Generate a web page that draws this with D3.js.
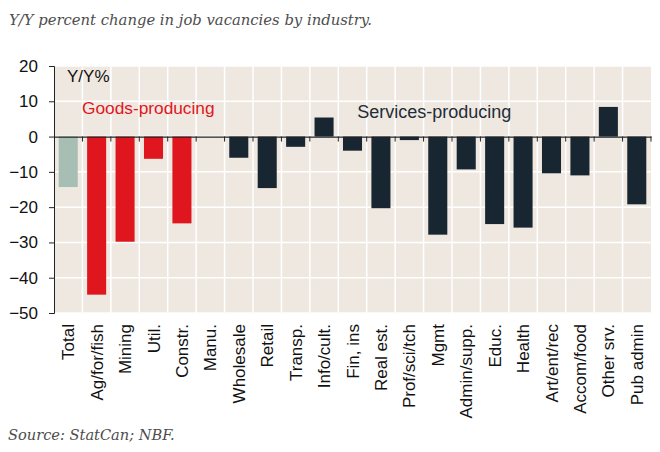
<!DOCTYPE html>
<html>
<head>
<meta charset="utf-8">
<script src="https://cdn.jsdelivr.net/npm/d3@7"></script>
<style>
  body { margin: 0; background: #fff; }
  svg { display: block; }
</style>
</head>
<body>
<svg id="chart" width="660" height="452"></svg>
<script>
// Industries, left to right
const categories = ["Total", "Ag/for/fish", "Mining", "Util.", "Constr.", "Manu.",
  "Wholesale", "Retail", "Transp.", "Info/cult.", "Fin, ins", "Real est.",
  "Prof/sci/tch", "Mgmt", "Admin/supp.", "Educ.", "Health", "Art/ent/rec",
  "Accom/food", "Other srv.", "Pub admin"];

// Y/Y % change in vacancies
const values = [-14.3, -44.8, -29.8, -6.3, -24.6, 0,
  -6.0, -14.6, -2.9, 5.4, -4.0, -20.3,
  -1.0, -27.8, -9.3, -24.8, -25.8, -10.4,
  -11.0, 8.4, -19.2];

// group for each bar: total / goods / services
const groups = ["total", "goods", "goods", "goods", "goods", "goods",
  "services", "services", "services", "services", "services", "services",
  "services", "services", "services", "services", "services", "services",
  "services", "services", "services"];

const yTicks = [20, 10, 0, -10, -20, -30, -40, -50];

const colors = { total: "#a7beb5", goods: "#e0161e", services: "#172631" };

const svg = d3.select("#chart");
const margin = { left: 54, right: 9, top: 66, bottom: 139 };
const width = 660 - margin.left - margin.right;
const height = 452 - margin.top - margin.bottom;

const x = d3.scaleBand().domain(categories).range([0, width]).paddingInner(0.33).paddingOuter(0.165);
const xb = d3.scaleBand().domain(categories).range([0, width]); // full bands for grid
const y = d3.scaleLinear().domain([-50, 20]).range([height, 0]);

const sans = "'Liberation Sans', Arial, sans-serif";
const serif = "'DejaVu Serif', Georgia, serif";

// title + source
svg.append("text")
  .attr("x", 9).attr("y", 25)
  .style("font-family", serif)
  .style("font-style", "italic")
  .style("font-size", "14.8px")
  .style("fill", "#4d4d4d")
  .text("Y/Y percent change in job vacancies by industry.");

svg.append("text")
  .attr("x", 8).attr("y", 440)
  .style("font-family", serif)
  .style("font-style", "italic")
  .style("font-size", "14.6px")
  .style("fill", "#4d4d4d")
  .text("Source: StatCan; NBF.");

const g = svg.append("g").attr("transform", `translate(${margin.left},${margin.top})`);

// plot background
g.append("rect")
  .attr("width", width).attr("height", height)
  .attr("fill", "#efe8e1");

// gridlines
g.append("g").selectAll("line")
  .data(yTicks)
  .enter().append("line")
  .attr("x1", 0).attr("x2", width)
  .attr("y1", d => y(d)).attr("y2", d => y(d))
  .attr("stroke", "#fff").attr("stroke-width", 1.5);

g.append("g").selectAll("line")
  .data(categories.slice(1))
  .enter().append("line")
  .attr("x1", d => xb(d)).attr("x2", d => xb(d))
  .attr("y1", 0).attr("y2", height)
  .attr("stroke", "#fff").attr("stroke-width", 1.5);

// bars
g.append("g").selectAll("rect")
  .data(categories)
  .enter().append("rect")
  .attr("x", d => x(d))
  .attr("width", x.bandwidth())
  .attr("y", (d, i) => y(Math.max(0, values[i])))
  .attr("height", (d, i) => Math.abs(y(values[i]) - y(0)))
  .attr("fill", (d, i) => colors[groups[i]]);

// y axis
const yAxis = d3.axisLeft(y).tickValues(yTicks).tickSize(5).tickPadding(11);
const ya = g.append("g").call(yAxis);
ya.select(".domain").attr("stroke", "#222");
ya.selectAll(".tick line").attr("stroke", "#222");
ya.selectAll("text")
  .style("font-family", sans)
  .style("font-size", "17px")
  .style("fill", "#111");

// zero line with ticks
const xAxis = d3.axisBottom(xb).tickSize(0).tickFormat("");
const za = g.append("g").attr("transform", `translate(0,${y(0)})`).call(xAxis);
za.select(".domain").attr("stroke", "#222").attr("stroke-width", 1.3);
g.append("g").selectAll("line")
  .data(categories.slice(1))
  .enter().append("line")
  .attr("x1", d => xb(d)).attr("x2", d => xb(d))
  .attr("y1", y(0)).attr("y2", y(0) + 5)
  .attr("stroke", "#222");
g.append("line")
  .attr("x1", width).attr("x2", width)
  .attr("y1", y(0)).attr("y2", y(0) + 5)
  .attr("stroke", "#222");

// category labels
g.append("g").selectAll("text")
  .data(categories)
  .enter().append("text")
  .attr("transform", d => `translate(${xb(d) + xb.bandwidth() / 2 + 6},${height + 11}) rotate(-90)`)
  .attr("text-anchor", "end")
  .style("font-family", sans)
  .style("font-size", "17px")
  .style("fill", "#111")
  .text(d => d);

// annotations
g.append("text")
  .attr("x", 13).attr("y", 16)
  .style("font-family", sans)
  .style("font-size", "17px")
  .style("fill", "#111")
  .text("Y/Y%");

g.append("text")
  .attr("x", 28).attr("y", 48)
  .style("font-family", sans)
  .style("font-size", "17.3px")
  .style("fill", "#e0161e")
  .text("Goods-producing");

g.append("text")
  .attr("x", xb("Fin, ins") + 19).attr("y", 52)
  .style("font-family", sans)
  .style("font-size", "18px")
  .style("fill", "#1f2d38")
  .text("Services-producing");
</script>
</body>
</html>
